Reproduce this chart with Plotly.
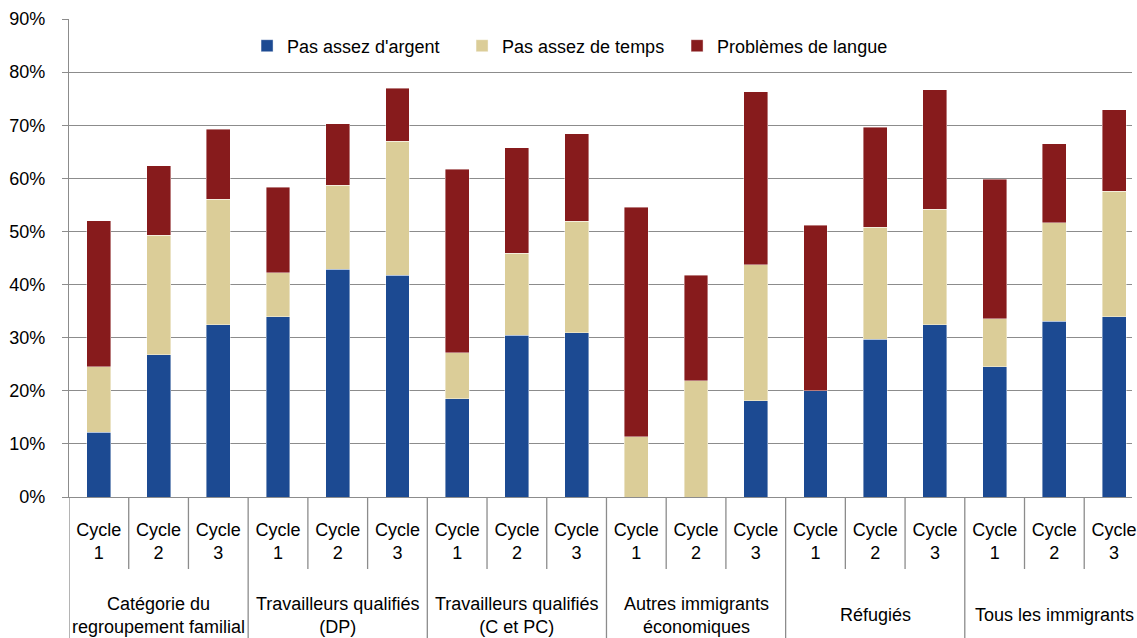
import plotly.graph_objects as go

# Groups of immigrants and survey cycles
groups = [
    "Catégorie du<br>regroupement familial",
    "Travailleurs qualifiés<br>(DP)",
    "Travailleurs qualifiés<br>(C et PC)",
    "Autres immigrants<br>économiques",
    "Réfugiés",
    "Tous les immigrants",
]
cycles = ["Cycle<br>1", "Cycle<br>2", "Cycle<br>3"]

# Share of respondents (%) citing each obstacle, one value per group x cycle
pas_argent = [12.2, 26.8, 32.4, 33.9, 42.9, 41.8, 18.5, 30.5, 30.9,
              0.0, 0.0, 18.1, 20.0, 29.7, 32.4, 24.5, 33.1, 33.9]
pas_temps = [12.3, 22.5, 23.7, 8.3, 15.8, 25.2, 8.7, 15.4, 21.0,
             11.3, 21.9, 25.6, 0.0, 21.1, 21.8, 9.1, 18.5, 23.7]
langue = [27.5, 13.1, 13.1, 16.1, 11.6, 10.0, 34.5, 19.9, 16.5,
          43.3, 19.9, 32.6, 31.2, 18.8, 22.5, 26.2, 14.9, 15.3]

series = [
    ("Pas assez d'argent", pas_argent, "#1C4A92"),
    ("Pas assez de temps", pas_temps, "#DBCD98"),
    ("Problèmes de langue", langue, "#871B1C"),
]

FONT = "Liberation Sans, Arial, sans-serif"
FS = 18
GRID = "#8C8C8C"

n = len(groups) * len(cycles)
xpos = list(range(n))
ticktext = [c for _ in groups for c in cycles]

fig = go.Figure()
for name, vals, color in series:
    fig.add_trace(go.Bar(
        x=xpos, y=vals, name=name, width=0.4,
        marker=dict(color=color, line=dict(color="rgba(255,255,255,0.7)", width=0.6)),
    ))

# Separators below the axis: short ones between cycles, long ones between groups
shapes = []
for k in range(n):
    b = k + 0.5
    if (k + 1) % 3 == 0:
        continue
    shapes.append(dict(type="line", xref="x", yref="paper", x0=b, x1=b,
                       y0=0, y1=-0.1506, line=dict(color=GRID, width=1.3)))
for g in range(len(groups) + 1):
    b = g * 3 - 0.5
    shapes.append(dict(type="line", xref="x", yref="paper", x0=b, x1=b,
                       y0=0, y1=-0.30, line=dict(color=GRID, width=1.3)))

annotations = []
for g, label in enumerate(groups):
    annotations.append(dict(
        x=g * 3 + 1, xref="x", y=-0.2470, yref="paper",
        text=label, showarrow=False, xanchor="center", yanchor="middle",
        font=dict(family=FONT, size=FS, color="#000"),
    ))

fig.update_layout(
    width=1137, height=638,
    margin=dict(l=69, r=0, t=19, b=141),
    paper_bgcolor="white", plot_bgcolor="white",
    barmode="stack",
    font=dict(family=FONT, size=FS, color="#000"),
    shapes=shapes, annotations=annotations,
    legend=dict(orientation="h", x=0.1675, xanchor="left", y=0.9435, yanchor="middle",
                font=dict(family=FONT, size=FS), bgcolor="rgba(0,0,0,0)",
                traceorder="normal", entrywidth=170),
    xaxis=dict(range=[-0.5, 17.3], tickmode="array", tickvals=xpos, ticktext=ticktext,
               ticks="", showgrid=False, zeroline=False, showline=True,
               linecolor=GRID, linewidth=1.3, ticklabelstandoff=16,
               ticklabeloverflow="allow",
               tickfont=dict(family=FONT, size=FS, color="#000")),
    yaxis=dict(range=[0, 90], dtick=10, ticksuffix="%", showgrid=True, gridcolor=GRID,
               gridwidth=1.3, zeroline=False, showline=True, linecolor=GRID, linewidth=1.3,
               ticks="outside", ticklen=6, tickcolor=GRID, tickwidth=1.3,
               ticklabelstandoff=13,
               tickfont=dict(family=FONT, size=FS, color="#000")),
)

fig.write_html("out.html")
